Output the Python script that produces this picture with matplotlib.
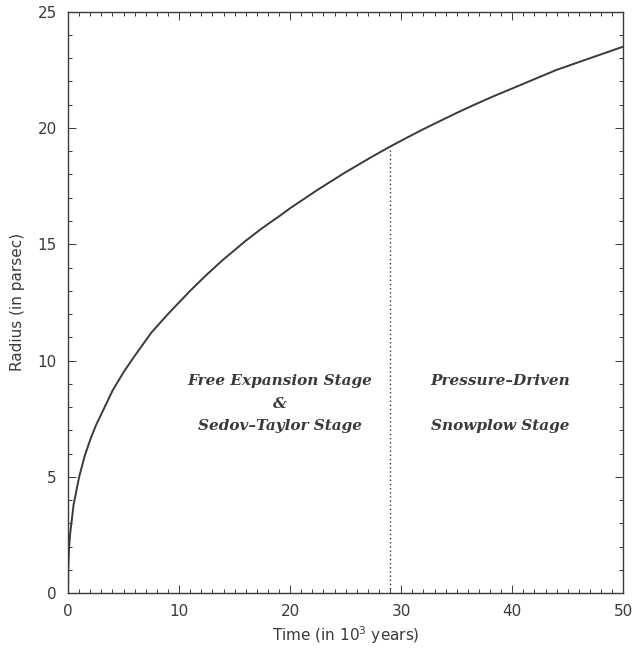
import numpy as np
import matplotlib.pyplot as plt
from matplotlib.ticker import MultipleLocator

# radius vs time
time = [0, 0.02, 0.05, 0.1, 0.2, 0.35, 0.5, 0.75, 1, 1.5, 2, 2.5, 3, 4, 5, 6,
        7.5, 9, 10, 11, 12.5, 14, 15, 16, 17.5, 19, 20, 21, 22.5, 24, 25, 26,
        27.5, 29, 30.5, 32, 33.5, 35, 36.5, 38, 39.5, 41, 42.5, 44, 45.5, 47,
        48.5, 50]
radius = [0, 1.0, 1.5, 2.0, 2.6, 3.2, 3.8, 4.4, 5.0, 5.9, 6.6, 7.2, 7.7, 8.7,
          9.5, 10.2, 11.2, 12.0, 12.5, 13.0, 13.7, 14.35, 14.75, 15.15, 15.7,
          16.2, 16.55, 16.87, 17.35, 17.8, 18.1, 18.38, 18.8, 19.2, 19.58, 19.95,
          20.3, 20.65, 20.98, 21.3, 21.6, 21.9, 22.2, 22.5, 22.75, 23.0, 23.25,
          23.5]
t_break = 29
r_break = 19.2

ink = '#3a3a3a'
plt.rcParams['font.family'] = ['DejaVu Sans']

fig = plt.figure(figsize=(6.36, 6.51), dpi=100)
ax = fig.add_axes([0.107, 0.089, 0.873, 0.893])

ax.plot(time, radius, color=ink, lw=1.4)
ax.plot([t_break, t_break], [0, r_break], color=ink, lw=1.0, ls=(0, (1, 2)))

ax.set_xlim(0, 50)
ax.set_ylim(0, 25)
ax.xaxis.set_major_locator(MultipleLocator(10))
ax.xaxis.set_minor_locator(MultipleLocator(1))
ax.yaxis.set_major_locator(MultipleLocator(5))
ax.yaxis.set_minor_locator(MultipleLocator(1))
ax.tick_params(which='both', direction='in', top=True, right=True, colors=ink,
               labelsize=11, width=0.7)
ax.tick_params(which='major', length=6, pad=8)
ax.tick_params(which='minor', length=3)
for s in ax.spines.values():
    s.set_color(ink)
    s.set_linewidth(1.0)

ax.set_xlabel('Time (in 10$^3$ years)', fontsize=11, color=ink, labelpad=4)
ax.set_ylabel('Radius (in parsec)', fontsize=11, color=ink, labelpad=9)

tf = dict(fontsize=11, fontstyle='italic', fontweight='bold', family='DejaVu Serif',
          color=ink, ha='center', va='center')
ax.text(19.1, 9.1, 'Free Expansion Stage', **tf)
ax.text(19.1, 8.15, '&', **tf)
ax.text(19.1, 7.2, 'Sedov\u2013Taylor Stage', **tf)
ax.text(38.9, 9.1, 'Pressure\u2013Driven', **tf)
ax.text(38.9, 7.2, 'Snowplow Stage', **tf)

plt.savefig('out.png')
